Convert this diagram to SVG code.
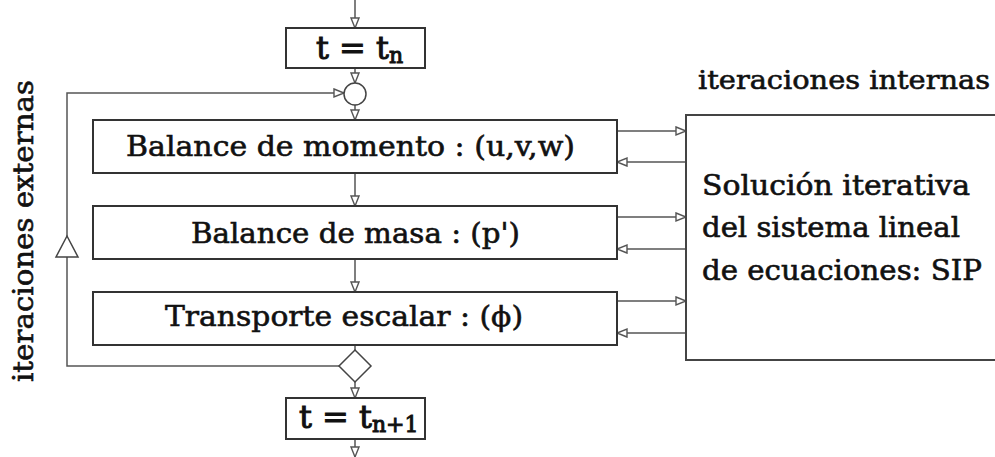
<svg xmlns="http://www.w3.org/2000/svg" width="995" height="457" viewBox="0 0 995 457">
<defs>
<style>
.box{fill:#fff;stroke:#333;stroke-width:2}
.ln{fill:none;stroke:#555;stroke-width:1.5}
.t{font-family:"DejaVu Serif","Liberation Serif",serif;fill:#111;stroke:#111;stroke-width:0.6}
.big{stroke-width:1}
</style>
<marker id="ah" markerWidth="13" markerHeight="11" refX="11" refY="5" orient="auto" markerUnits="userSpaceOnUse">
<path d="M1,1 L11,5 L1,9 Z" fill="#fff" stroke="#555" stroke-width="1.4"/>
</marker>
</defs>
<rect width="995" height="457" fill="#fff"/>
<g id="connectors">
<line class="ln" x1="355" y1="0" x2="355" y2="28" marker-end="url(#ah)"/>
<line class="ln" x1="355" y1="68" x2="355" y2="83" marker-end="url(#ah)"/>
<line class="ln" x1="355" y1="104" x2="355" y2="120" marker-end="url(#ah)"/>
<line class="ln" x1="355" y1="173" x2="355" y2="206" marker-end="url(#ah)"/>
<line class="ln" x1="355" y1="259" x2="355" y2="292" marker-end="url(#ah)"/>
<line class="ln" x1="355" y1="345" x2="355" y2="350"/>
<line class="ln" x1="355" y1="382" x2="355" y2="398" marker-end="url(#ah)"/>
<line class="ln" x1="355" y1="439" x2="355" y2="457" marker-end="url(#ah)"/>
<path class="ln" d="M339,366 H67 V93 H344" marker-end="url(#ah)"/>
<path d="M67,236 L78,257 L56,257 Z" fill="#fff" stroke="#444" stroke-width="1.5"/>
<line class="ln" x1="617" y1="131" x2="686" y2="131" marker-end="url(#ah)"/>
<line class="ln" x1="686" y1="162" x2="617" y2="162" marker-end="url(#ah)"/>
<line class="ln" x1="617" y1="217" x2="686" y2="217" marker-end="url(#ah)"/>
<line class="ln" x1="686" y1="249" x2="617" y2="249" marker-end="url(#ah)"/>
<line class="ln" x1="617" y1="301" x2="686" y2="301" marker-end="url(#ah)"/>
<line class="ln" x1="686" y1="333" x2="617" y2="333" marker-end="url(#ah)"/>
</g>
<g id="tn">
<rect class="box" x="286" y="28" width="139" height="40"/>
<text class="t big" x="316" y="59" font-size="32">t = t<tspan font-size="22" dy="4">n</tspan></text>
</g>
<g id="merge">
<circle cx="355" cy="94" r="11" fill="#fff" stroke="#444" stroke-width="1.5"/>
</g>
<g id="momento">
<rect class="box" x="93" y="120" width="524" height="53"/>
<text class="t" x="126" y="156" font-size="28" textLength="449" lengthAdjust="spacingAndGlyphs">Balance de momento : (u,v,w)</text>
</g>
<g id="masa">
<rect class="box" x="93" y="206" width="524" height="53"/>
<text class="t" x="191" y="243" font-size="28" textLength="329" lengthAdjust="spacingAndGlyphs">Balance de masa : (p')</text>
</g>
<g id="transporte">
<rect class="box" x="93" y="292" width="524" height="53"/>
<text class="t" x="165" y="326" font-size="28" textLength="358" lengthAdjust="spacingAndGlyphs">Transporte escalar : (ϕ)</text>
</g>
<g id="decision">
<path d="M355,350 L371,366 L355,382 L339,366 Z" fill="#fff" stroke="#444" stroke-width="1.5"/>
</g>
<g id="tn1">
<rect class="box" x="286" y="398" width="139" height="41"/>
<text class="t big" x="299" y="428" font-size="32">t = t<tspan font-size="22" dy="4">n+1</tspan></text>
</g>
<g id="sip">
<path d="M996,115 H686 V360 H996" fill="#fff" stroke="#444" stroke-width="2"/>
<text class="t" x="702" y="195" font-size="27" textLength="268" lengthAdjust="spacingAndGlyphs">Solución iterativa</text>
<text class="t" x="702" y="237" font-size="27" textLength="258" lengthAdjust="spacingAndGlyphs">del sistema lineal</text>
<text class="t" x="702" y="280" font-size="27" textLength="280" lengthAdjust="spacingAndGlyphs">de ecuaciones: SIP</text>
</g>
<g id="labels">
<text class="t" x="698" y="89" font-size="26" textLength="292" lengthAdjust="spacingAndGlyphs">iteraciones internas</text>
<text class="t" transform="translate(33,382) rotate(-90)" x="0" y="0" font-size="27" textLength="302" lengthAdjust="spacingAndGlyphs">iteraciones externas</text>
</g>
</svg>
